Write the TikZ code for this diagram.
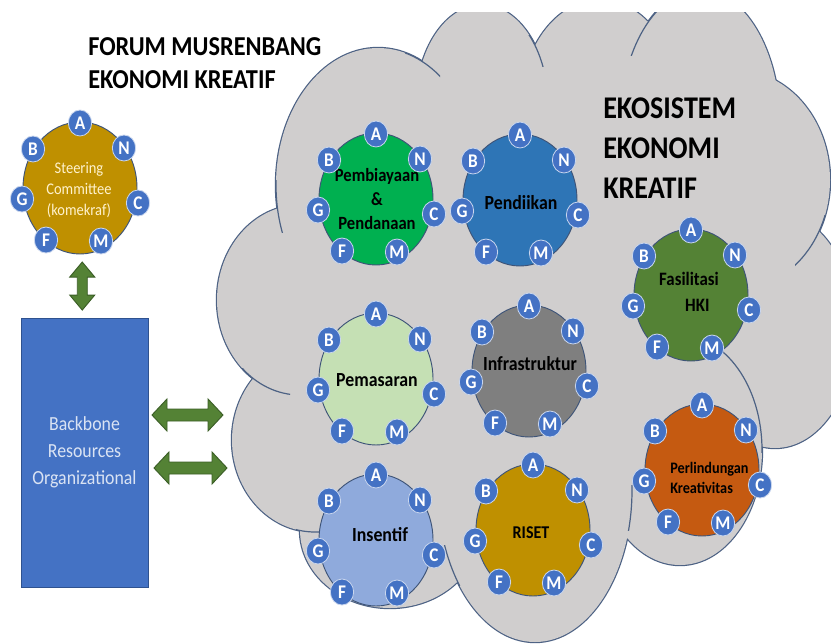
\documentclass[tikz,border=0pt]{standalone}
\usepackage{fontspec}
\setmainfont{Carlito}[FakeStretch=0.89]
\usetikzlibrary{shapes.geometric,calc}
\definecolor{cloudfill}{HTML}{D0CECE}
\definecolor{cloudline}{HTML}{4D6284}
\definecolor{circline}{HTML}{3E5478}
\definecolor{letblue}{HTML}{4472C4}
\definecolor{letedge}{HTML}{C9D6EE}
\definecolor{gold}{HTML}{BF9000}
\definecolor{bgreen}{HTML}{00B050}
\definecolor{dblue}{HTML}{2E75B6}
\definecolor{dgreen}{HTML}{548235}
\definecolor{lgreen}{HTML}{C5E0B4}
\definecolor{mgray}{HTML}{7F7F7F}
\definecolor{orng}{HTML}{C55A11}
\definecolor{lblue}{HTML}{8FAADC}
\definecolor{arrowgreen}{HTML}{548235}
\definecolor{arrowedge}{HTML}{3B5E26}
\definecolor{bbfill}{HTML}{4472C4}
\definecolor{bbedge}{HTML}{2F528F}
\definecolor{bbtext}{HTML}{DAE3F3}
\definecolor{sctext}{HTML}{FFF2CC}
\newcommand\letterring[1]{%
  \foreach \l/\dx/\dy in {A/0/-65,N/44/-40,C/58/15,M/21/53,F/-34/52,G/-58/11,B/-47/-39}{%
    \node[letc] (#1-\l) at ($(#1.center)+(\dx,\dy)$) {\l};}}
% horizontal double arrow round a named coordinate: #1 name, #2 half length
\newcommand\hdblarrow[2]{%
  \draw[greenarrow,shift={(#1)}] (-#2,0) -- (-#2+15,-16) -- (-#2+15,-6) -- (#2-15,-6) -- (#2-15,-16) -- (#2,0)
    -- (#2-15,16) -- (#2-15,6) -- (-#2+15,6) -- (-#2+15,16) -- cycle;}
\begin{document}
\begin{tikzpicture}[x=0.75pt,y=-0.75pt,
  lobeline/.style={draw=cloudline,line width=1.8pt},
  tail/.style={draw=cloudline,line width=0.9pt},
  bigc/.style={ellipse,draw=circline,line width=0.7pt,minimum width=85.5pt,minimum height=99pt,inner sep=0pt},
  letc/.style={ellipse,fill=letblue,draw=letedge,line width=0.6pt,minimum width=17.5pt,minimum height=19.5pt,inner sep=0pt,text=white,font=\fontsize{14.5}{14.5}\selectfont\bfseries},
  lbl/.style={align=center,text=black,inner sep=0pt},
  greenarrow/.style={fill=arrowgreen,draw=arrowedge,line width=0.7pt,line join=miter}]
\fill[white] (0,0) rectangle (831,643);
\useasboundingbox (0,0) rectangle (831,643);
% ---- cloud ----
\begin{scope}
\clip (0,12) rectangle (831,643);
\foreach \cx/\cy/\rx/\ry in {378/185/102/137,300/300/83/95,315/440/83/92,390/530/90/78,535/490/97/152,680/450/82/115,775/330/80/118,735/180/95/110,700/125/80/135,600/110/80/110,482/105/66/100}{
  \draw[lobeline] (\cx,\cy) ellipse [x radius=\rx*0.75pt, y radius=\ry*0.75pt];}
\foreach \cx/\cy/\rx/\ry in {378/185/102/137,300/300/83/95,315/440/83/92,390/530/90/78,535/490/97/152,680/450/82/115,775/330/80/118,735/180/95/110,700/125/80/135,600/110/80/110,482/105/66/100,550/320/210/200}{
  \fill[cloudfill] (\cx,\cy) ellipse [x radius=\rx*0.75pt, y radius=\ry*0.75pt];}
\foreach \cx/\cy/\rx/\ry/\xa/\ya/\xb/\yb in {378/185/102/137/262/180/292/232, 378/185/102/137/405/50/440/92, 300/300/83/95/240/368/290/398, 315/440/83/92/296/512/322/536, 535/490/97/152/436/545/460/585, 535/490/97/152/618/485/640/530, 735/180/95/110/795/215/831/270, 680/450/82/115/712/340/765/452, 482/105/66/100/525/35/548/66, 700/125/80/135/630/12/660/55}{
  \begin{scope}
  \clip (\xa,\ya) rectangle (\xb,\yb);
  \draw[tail] (\cx,\cy) ellipse [x radius=\rx*0.75pt, y radius=\ry*0.75pt];
  \end{scope}}
\end{scope}
% ---- titles ----
\node[anchor=west,align=left,inner sep=0pt,font=\fontsize{20.5}{24.75}\selectfont\bfseries] (title) at (88,63.5) {FORUM MUSRENBANG\\EKONOMI KREATIF};
\node[anchor=west,align=left,inner sep=0pt,font=\fontsize{23.7}{30}\selectfont\bfseries] (eko) at (603,148) {EKOSISTEM\\EKONOMI\\KREATIF};
% ---- big circles ----
\node[bigc,fill=gold] (sc) at (80,188) {};
\node[bigc,fill=bgreen] (pemb) at (376,199) {};
\node[bigc,fill=dblue] (pend) at (520,200) {};
\node[bigc,fill=dgreen] (fas) at (691,295) {};
\node[bigc,fill=lgreen] (pem) at (376,379) {};
\node[bigc,fill=mgray] (inf) at (529,371) {};
\node[bigc,fill=orng] (per) at (702,470) {};
\node[bigc,fill=lblue] (ins) at (376,540) {};
\node[bigc,fill=gold] (ris) at (533,530) {};
% ---- labels ----
\node[lbl,text=sctext,font=\fontsize{12.2}{15.4}\selectfont] (sc-t) at (79,190) {Steering\\Committee\\(komekraf)};
\node[lbl,font=\fontsize{14}{18}\selectfont\bfseries] (pemb-t) at (377,199) {Pembiayaan\\\&\\Pendanaan};
\node[lbl,font=\fontsize{15}{18}\selectfont\bfseries] (pend-t) at (521,203) {Pendiikan};
\node[lbl,align=left,font=\fontsize{14.2}{19.5}\selectfont\bfseries] (fas-t) at (689,292) {Fasilitasi\\\hspace*{19.5pt}HKI};
\node[lbl,font=\fontsize{15}{18}\selectfont\bfseries] (pem-t) at (377,380) {Pemasaran};
\node[lbl,font=\fontsize{15}{18}\selectfont\bfseries] (inf-t) at (530,364) {Infrastruktur};
\node[lbl,align=left,anchor=west,font=\fontsize{12}{15}\selectfont\bfseries] (per-t) at (670,478) {Perlindungan\\Kreativitas};
\node[lbl,font=\fontsize{15}{18}\selectfont\bfseries] (ins-t) at (380,535) {Insentif};
\node[lbl,font=\fontsize{13.5}{18}\selectfont\bfseries] (ris-t) at (531,533) {RISET};
% ---- letter rings ----
\letterring{sc}
\letterring{pemb}
\letterring{pend}
\letterring{fas}
\letterring{pem}
\letterring{inf}
\letterring{per}
\letterring{ins}
\letterring{ris}
% ---- backbone ----
\node[rectangle,fill=bbfill,draw=bbedge,line width=0.6pt,minimum width=95.25pt,minimum height=201.75pt,inner sep=0pt,align=center,text=bbtext,font=\fontsize{15}{20.25}\selectfont] (bb) at (84.5,452.5) {Backbone\\Resources\\Organizational};
% ---- arrows ----
\coordinate (varr) at ($(sc.south)!0.5!(bb.north)$);
\draw[greenarrow,shift={(varr)}] (0,-24) -- (12.5,-9) -- (5,-9) -- (5,9) -- (12.5,9) -- (0,24)
  -- (-12.5,9) -- (-5,9) -- (-5,-9) -- (-12.5,-9) -- cycle;
\coordinate (harr1) at (187.5,415);
\coordinate (harr2) at (190.5,468);
\hdblarrow{harr1}{35.5}
\hdblarrow{harr2}{36.5}
\end{tikzpicture}
\end{document}
